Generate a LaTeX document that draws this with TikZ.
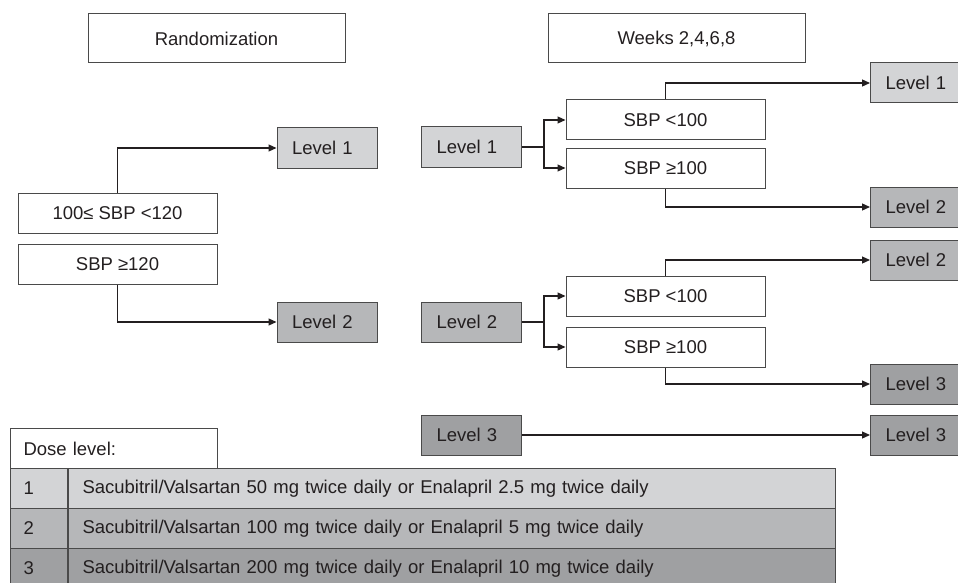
\documentclass[tikz,border=0pt]{standalone}
\usepackage{fontspec}
\setmainfont{Liberation Sans}
\usetikzlibrary{arrows.meta}
\definecolor{lvone}{HTML}{D3D4D6}
\definecolor{lvtwo}{HTML}{B6B7B9}
\definecolor{lvthree}{HTML}{9FA0A2}
\definecolor{edge}{HTML}{4A4A4A}
\definecolor{ink}{HTML}{231F20}
\begin{document}
\begin{tikzpicture}[x=1pt,y=-1pt,>={Triangle[length=8pt,width=7pt]},
	font=\fontsize{18.5}{22}\selectfont,text=ink,
	box/.style={draw=edge,line width=1pt,minimum height=40pt,inner sep=0pt},
	cond/.style={box,minimum width=199pt},
	head/.style={box,minimum width=257pt,minimum height=49pt},
	lvl/.style={box,text width=70pt,inner xsep=15pt,align=left},
	link/.style={->,line width=1.2pt,draw=ink}]
				\useasboundingbox (0,0) rectangle (958,583);
				% randomization
				\node[head] (rand) at (216.5,38.5) {Randomization};
				\node[cond] (lowA) at (117.5,213) {100≤ SBP <120};
				\node[cond] (highA) at (117.5,264) {SBP ≥120};
				\node[lvl,fill=lvone] (outA1) at (327,148) {Level 1};
				\node[lvl,fill=lvtwo] (outA2) at (327,322) {Level 2};
				\draw[link] (lowA.north) |- (outA1.west);
				\draw[link] (highA.south) |- (outA2.west);
				% weeks 2,4,6,8
				\node[head] (weeks) at (676.5,38.5) {Weeks 2,4,6,8};
				\node[lvl,fill=lvone] (wk1) at (471.5,147) {Level 1};
				\node[lvl,fill=lvtwo] (wk2) at (471.5,322) {Level 2};
				\node[lvl,fill=lvthree] (wk3) at (471.5,435) {Level 3};
				\node[cond] (lo1) at (665.5,120) {SBP <100};
				\node[cond] (hi1) at (665.5,168) {SBP ≥100};
				\node[cond] (lo2) at (665.5,296) {SBP <100};
				\node[cond] (hi2) at (665.5,347) {SBP ≥100};
				\foreach \n/\y/\c/\l in {1/83/lvone/1,2/207/lvtwo/2,3/260/lvtwo/2,4/384/lvthree/3,5/435/lvthree/3}
					\node[lvl,fill=\c,anchor=west] (nx\n) at (870,\y) {Level \l};
				\foreach \k in {1,2} {
					\draw[line width=1.2pt,draw=ink] (wk\k.east) -- ++(22,0) coordinate (fork\k);
					\draw[link] (fork\k) |- (lo\k.west);
					\draw[link] (fork\k) |- (hi\k.west);
				}
				\draw[link] (lo1.north) |- (nx1.west);
				\draw[link] (hi1.south) |- (nx2.west);
				\draw[link] (lo2.north) |- (nx3.west);
				\draw[link] (hi2.south) |- (nx4.west);
				\draw[link] (wk3.east) -- (nx5.west);
				% dose table
				\node[box,anchor=north west,text width=181pt,inner xsep=13pt,align=left] (dose) at (10,428) {Dose level:};
				\foreach \i/\c/\sv/\en in {1/lvone/50/2.5,2/lvtwo/100/5,3/lvthree/200/10} {
					\node[box,fill=\c,anchor=north west,text width=31pt,inner xsep=13pt,align=left] (num\i) at (10,428+40*\i) {\i};
					\node[box,fill=\c,anchor=north west,text width=739pt,inner xsep=14pt,align=left] (row\i) at (num\i.north east) {Sacubitril/Valsartan \sv{} mg twice daily or Enalapril \en{} mg twice daily};
				}
			\end{tikzpicture}
\end{document}
